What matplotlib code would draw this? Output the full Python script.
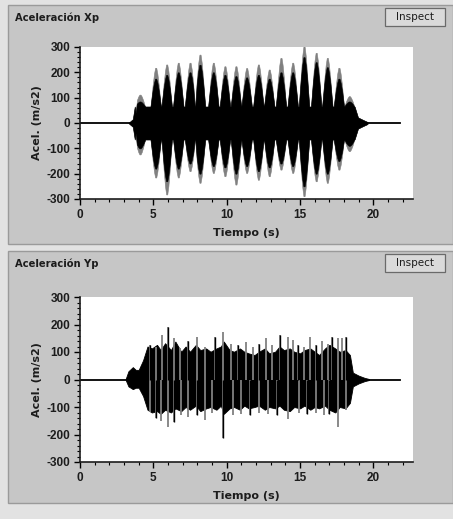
"""Two acceleration records (Xp, Yp) drawn as in the original instrument GUI."""
import matplotlib
matplotlib.use("Agg")
import matplotlib.pyplot as plt
from matplotlib.patches import Rectangle
import numpy as np

plt.rcParams["font.family"] = ["DejaVu Sans"]
plt.rcParams["axes.unicode_minus"] = False

# ── Data ──────────────────────────────────────────────────────────────────
SIGNAL_START, SIGNAL_END = 0.0, 21.8          # s, flat trace extent

# Xp: beating bursts (centre time, gray tip, black core tip)
xp_burst_t = [4.09, 5.16, 5.91, 6.70, 7.50, 8.18, 9.09, 9.88, 10.63, 11.36,
              12.16, 12.90, 13.70, 14.50, 15.27, 16.10, 16.86, 17.65, 18.36]
xp_outer_hi = [112, 218, 231, 238, 238, 270, 238, 224, 224, 217,
               231, 211, 257, 238, 303, 277, 257, 218, 106]
xp_outer_lo = [-124, -215, -282, -215, -190, -236, -197, -210, -243, -197,
               -224, -210, -184, -197, -289, -230, -236, -184, -111]
xp_core_hi = [85, 175, 190, 200, 200, 230, 200, 190, 185, 180,
              190, 175, 200, 200, 260, 240, 220, 175, 85]
xp_core_lo = [-100, -180, -230, -180, -160, -200, -170, -175, -200, -170,
              -190, -175, -160, -170, -250, -200, -200, -150, -90]
# Xp: level between bursts
xp_base_t = [3.30, 3.60, 3.80, 4.50, 18.70, 18.95, 19.30, 19.60]
xp_base_a = [0, 15, 40, 65, 65, 22, 12, 4]

# Yp: noisy core envelope (upper / lower edge of the black mass)
yp_t = [3.10, 3.30, 3.60, 3.80, 4.00, 4.30, 4.60, 4.90, 5.25, 5.50, 5.80,
        6.20, 6.50, 6.90, 7.20, 7.50, 7.90, 8.20, 8.60, 8.90, 9.30, 9.60,
        9.80, 10.20, 10.50, 10.90, 11.20, 11.50, 11.90, 12.20, 12.60, 12.90,
        13.30, 13.60, 13.90, 14.30, 14.60, 15.00, 15.30, 15.70, 16.00, 16.30,
        16.70, 17.00, 17.40, 17.70, 18.10, 18.40, 18.60, 19.00, 19.40, 19.70]
yp_hi = [0, 30, 45, 35, 35, 70, 120, 113, 126, 107, 132,
         107, 138, 101, 120, 101, 126, 107, 113, 101, 113, 120,
         138, 107, 101, 113, 101, 95, 89, 101, 113, 95,
         101, 120, 107, 113, 101, 95, 107, 113, 101, 89,
         113, 126, 113, 101, 107, 89, 25, 14, 6, 2]
yp_lo = [0, -25, -35, -30, -30, -60, -110, -120, -115, -125, -110,
         -120, -105, -115, -100, -110, -95, -115, -105, -100, -110, -95,
         -125, -105, -100, -110, -95, -105, -100, -95, -110, -100,
         -105, -95, -110, -115, -100, -105, -95, -110, -100, -105,
         -95, -110, -120, -100, -105, -85, -25, -14, -6, -2]
# Yp: isolated peaks above and below the core
yp_up_t = [4.80, 5.20, 5.57, 5.97, 6.40, 6.80, 7.38, 7.95, 8.50, 9.20, 9.77,
           10.30, 10.80, 11.30, 11.80, 12.20, 12.70, 13.10, 13.64, 14.20,
           14.50, 14.88, 15.30, 15.68, 16.10, 16.47, 16.90, 17.20, 17.56,
           17.85, 18.10]
yp_up_v = [125, 120, 162, 192, 150, 115, 140, 156, 120, 156, 174,
           130, 125, 135, 120, 130, 150, 125, 162, 156,
           145, 127, 120, 156, 125, 139, 130, 156, 150,
           150, 156]
yp_dn_t = [4.80, 5.20, 5.50, 5.97, 6.40, 6.90, 7.38, 7.95, 8.50, 9.00, 9.77,
           10.40, 11.00, 11.60, 12.20, 12.80, 13.40, 14.20, 14.90, 15.50,
           16.10, 16.60, 17.00, 17.56, 18.10]
yp_dn_v = [-117, -141, -150, -172, -154, -130, -135, -128, -147, -120, -214,
           -130, -125, -130, -120, -125, -130, -144, -120, -125,
           -120, -130, -125, -172, -110]

BG_OUT = "#e2e2e2"
BG_PANEL = "#c6c6c6"
GRAY_TIP = "#808080"
INK = "#1c1c1c"

# burst outline: time offset from centre (s) and fraction of base→tip height
SPINDLE_DT = [-0.36, -0.22, -0.12, -0.04, 0.04, 0.12, 0.22, 0.36]
SPINDLE_FR = [0.0, 0.55, 0.85, 1.0, 1.0, 0.85, 0.55, 0.0]


def burst_polygon(ax, centres, hi, lo, base_t, base_a, width, color):
    """Spindle-shaped bursts joined by the between-burst level."""
    pts_t, pts_hi, pts_lo = [], [], []
    for t, a in zip(base_t, base_a):
        pts_t.append(t); pts_hi.append(a); pts_lo.append(-a)
    base = base_a[3]
    for c, h, l in zip(centres, hi, lo):
        b_hi = min(base, h * 0.8)
        b_lo = max(-base, l * 0.8)
        for dt, fr in zip(SPINDLE_DT, SPINDLE_FR):
            pts_t.append(c + dt * width)
            pts_hi.append(b_hi + fr * (h - b_hi))
            pts_lo.append(b_lo + fr * (l - b_lo))
    order = np.argsort(pts_t, kind="stable")
    ax.fill_between(np.array(pts_t)[order], np.array(pts_hi)[order],
                    np.array(pts_lo)[order], color=color, linewidth=0.4,
                    edgecolor=color)


def style_axes(ax):
    ax.set_facecolor("white")
    ax.set_xlim(0, 22.7)
    ax.set_ylim(-300, 300)
    ax.set_xticks([0, 5, 10, 15, 20])
    ax.set_xticks(np.arange(0, 23, 1), minor=True)
    ax.set_yticks(np.arange(-300, 301, 100))
    ax.set_yticks(np.arange(-300, 301, 20), minor=True)
    for s in ("top", "right"):
        ax.spines[s].set_visible(False)
    for s in ("left", "bottom"):
        ax.spines[s].set_linewidth(1.2)
        ax.spines[s].set_color(INK)
    ax.tick_params(which="major", length=4, width=1.0, labelsize=8.5, pad=3)
    ax.tick_params(which="minor", length=2, width=0.8)
    for lab in ax.get_xticklabels() + ax.get_yticklabels():
        lab.set_fontweight("bold")
        lab.set_fontfamily("Liberation Sans")
        lab.set_color(INK)
    ax.set_xlabel("Tiempo (s)", fontsize=8, fontweight="bold", labelpad=5,
                  color=INK)
    ax.set_ylabel("Acel. (m/s2)", fontsize=8, fontweight="bold", labelpad=3,
                  color=INK)


W, H = 453, 519
fig = plt.figure(figsize=(W / 100, H / 100), dpi=100, facecolor=BG_OUT)


def fx(px):
    return px / W


def fy(py):
    return 1 - py / H


# panels and buttons
for top, bot, title in ((5, 244, "Aceleración Xp"), (251, 503, "Aceleración Yp")):
    fig.patches.append(Rectangle((fx(8), fy(bot)), fx(445), (bot - top) / H,
                                 transform=fig.transFigure, facecolor=BG_PANEL,
                                 edgecolor="#9a9a9a", linewidth=1.0, zorder=-2))
    fig.text(fx(15), fy(top + 13), title, fontsize=7.2, fontweight="bold",
             va="center", ha="left", color=INK)
    fig.patches.append(Rectangle((fx(385), fy(top + 21)), fx(60), 18 / H,
                                 transform=fig.transFigure, facecolor="#dadada",
                                 edgecolor="#6a6a6a", linewidth=0.9, zorder=-1))
    fig.text(fx(415), fy(top + 12), "Inspect", fontsize=7.5, va="center",
             ha="center", color=INK)

ax1 = fig.add_axes([fx(80), fy(199), fx(333), 152 / H])
ax2 = fig.add_axes([fx(80), fy(462), fx(333), 165 / H])

# Xp trace
ax1.plot([SIGNAL_START, SIGNAL_END], [0, 0], color="black", linewidth=1.3)
burst_polygon(ax1, xp_burst_t, xp_outer_hi, xp_outer_lo, xp_base_t, xp_base_a,
              0.95, GRAY_TIP)
burst_polygon(ax1, xp_burst_t, xp_core_hi, xp_core_lo, xp_base_t, xp_base_a,
              1.0, "black")
style_axes(ax1)

# Yp trace
ax2.plot([SIGNAL_START, SIGNAL_END], [0, 0], color="black", linewidth=1.3)
ax2.vlines(yp_up_t, 0, yp_up_v, color=GRAY_TIP, linewidth=1.3)
ax2.vlines(yp_dn_t, 0, yp_dn_v, color=GRAY_TIP, linewidth=1.3)
ax2.vlines(yp_up_t[::3], 0, yp_up_v[::3], color="black", linewidth=1.0)
ax2.vlines(yp_dn_t[1::3], 0, yp_dn_v[1::3], color="black", linewidth=1.0)
ax2.fill_between(yp_t, yp_hi, yp_lo, color="black", linewidth=0.6,
                 edgecolor="black")
style_axes(ax2)

fig.savefig("out.png", dpi=100, facecolor=BG_OUT)
